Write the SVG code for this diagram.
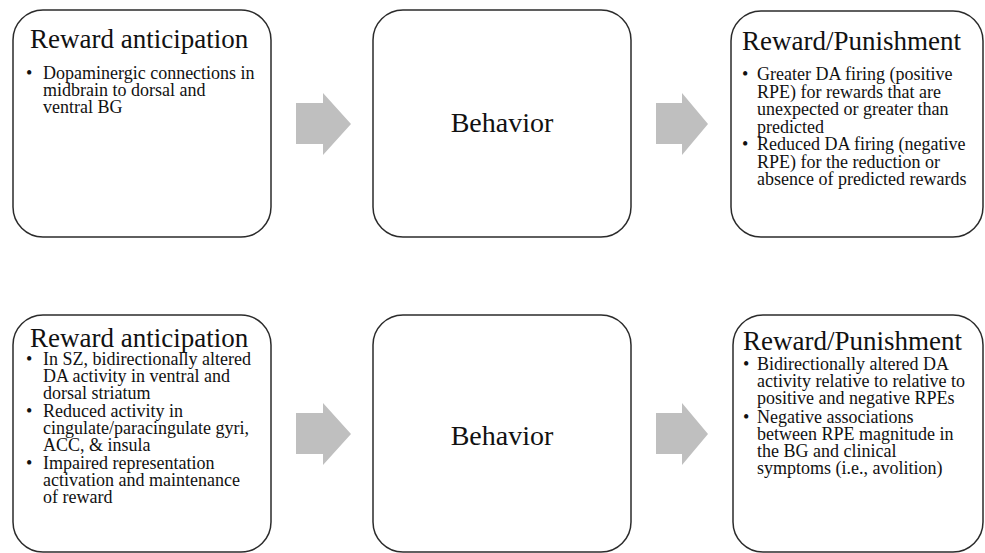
<svg xmlns="http://www.w3.org/2000/svg" width="985" height="553" viewBox="0 0 985 553">
<style>
.box{fill:#fff;stroke:#2b2b2b;stroke-width:1.5}
.arr{fill:#bfbfbf}
text{font-family:"Liberation Serif","Times New Roman",serif;fill:#111}
.t{font-size:27px}
.b{font-size:18px}
.c{font-size:28px;text-anchor:middle}
</style>
<rect width="985" height="553" fill="#fff"/>
<g id="connectors">
<polygon class="arr" points="296,103 323,103 323,93 351,124 323,155 323,144 296,144"/>
<polygon class="arr" points="656,103 682,103 682,93 708,124 682,155 682,144 656,144"/>
<polygon class="arr" points="296,413 323,413 323,403 351,434 323,465 323,454 296,454"/>
<polygon class="arr" points="656,413 682,413 682,403 708,434 682,465 682,454 656,454"/>
</g>
<g id="top-anticipation">
<rect class="box" x="13" y="10" width="258" height="227" rx="30"/>
<text class="t" x="30" y="48">Reward anticipation</text>
<text class="b" x="26" y="79">•</text>
<text class="b" x="43" y="79">Dopaminergic connections in</text>
<text class="b" x="43" y="96">midbrain to dorsal and</text>
<text class="b" x="43" y="113">ventral BG</text>
</g>
<g id="top-behavior">
<rect class="box" x="373" y="10" width="258" height="227" rx="30"/>
<text class="c" x="502" y="132">Behavior</text>
</g>
<g id="top-reward">
<rect class="box" x="731" y="11" width="252" height="226" rx="30"/>
<text class="t" x="742" y="50">Reward/Punishment</text>
<text class="b" x="742" y="80">•</text>
<text class="b" x="757" y="80">Greater DA firing (positive</text>
<text class="b" x="757" y="97.5">RPE) for rewards that are</text>
<text class="b" x="757" y="115">unexpected or greater than</text>
<text class="b" x="757" y="132.5">predicted</text>
<text class="b" x="742" y="150">•</text>
<text class="b" x="757" y="150">Reduced DA firing (negative</text>
<text class="b" x="757" y="167.5">RPE) for the reduction or</text>
<text class="b" x="757" y="185">absence of predicted rewards</text>
</g>
<g id="bottom-anticipation">
<rect class="box" x="13" y="315" width="258" height="237" rx="30"/>
<text class="t" x="30" y="347">Reward anticipation</text>
<text class="b" x="26" y="365">•</text>
<text class="b" x="43" y="365">In SZ, bidirectionally altered</text>
<text class="b" x="43" y="382">DA activity in ventral and</text>
<text class="b" x="43" y="399">dorsal striatum</text>
<text class="b" x="26" y="417">•</text>
<text class="b" x="43" y="417">Reduced activity in</text>
<text class="b" x="43" y="434">cingulate/paracingulate gyri,</text>
<text class="b" x="43" y="451">ACC, &amp; insula</text>
<text class="b" x="26" y="469">•</text>
<text class="b" x="43" y="469">Impaired representation</text>
<text class="b" x="43" y="486">activation and maintenance</text>
<text class="b" x="43" y="503">of reward</text>
</g>
<g id="bottom-behavior">
<rect class="box" x="373" y="315" width="258" height="237" rx="30"/>
<text class="c" x="502" y="445">Behavior</text>
</g>
<g id="bottom-reward">
<rect class="box" x="733" y="315" width="250" height="237" rx="30"/>
<text class="t" x="743" y="350">Reward/Punishment</text>
<text class="b" x="743" y="370">•</text>
<text class="b" x="757" y="370">Bidirectionally altered DA</text>
<text class="b" x="757" y="387">activity relative to relative to</text>
<text class="b" x="757" y="404">positive and negative RPEs</text>
<text class="b" x="743" y="423">•</text>
<text class="b" x="757" y="423">Negative associations</text>
<text class="b" x="757" y="440">between RPE magnitude in</text>
<text class="b" x="757" y="457">the BG and clinical</text>
<text class="b" x="757" y="474">symptoms (i.e., avolition)</text>
</g>
</svg>
